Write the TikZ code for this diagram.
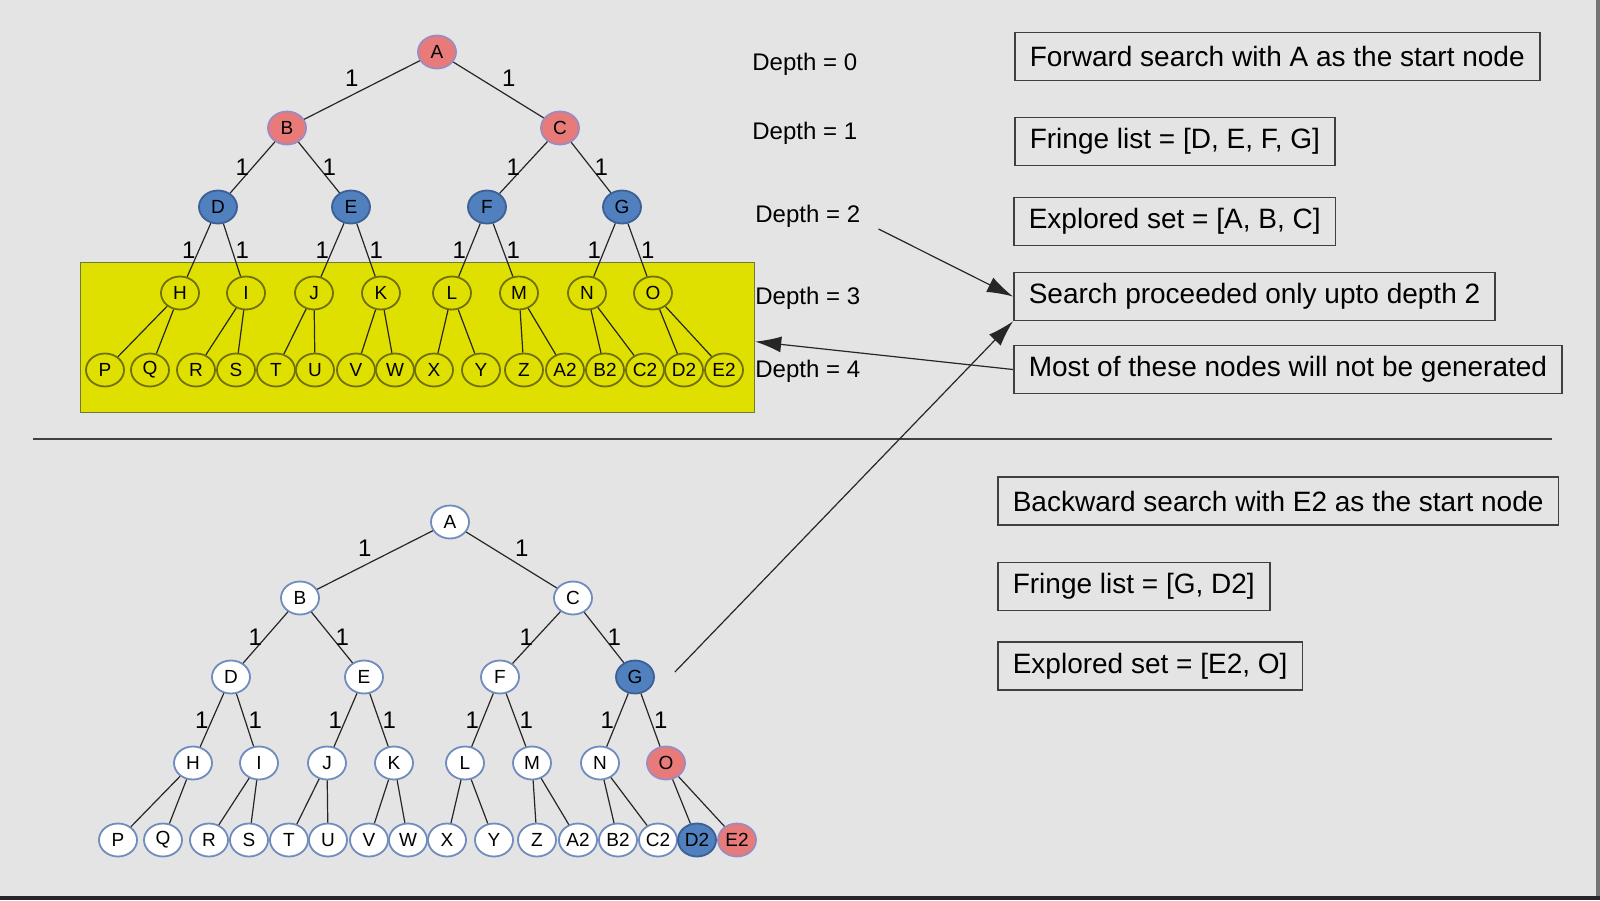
\documentclass[tikz,border=0pt]{standalone}
\usepackage{fontspec}
\setmainfont{Liberation Sans}
\usetikzlibrary{arrows.meta,shapes.geometric}

\definecolor{slidebg}{HTML}{E4E4E4}
\definecolor{visitred}{HTML}{E87A7A}
\definecolor{visitredline}{HTML}{9A8CC0}
\definecolor{fringeblue}{HTML}{5080BE}
\definecolor{fringeblueline}{HTML}{3C5F96}
\definecolor{cutyellow}{HTML}{E0E000}
\definecolor{cutyellowline}{HTML}{6E7A3C}
\definecolor{yellownodeline}{HTML}{70700A}
\definecolor{plainline}{HTML}{6E8CBE}

\begin{document}
\begin{tikzpicture}[x=50pt, y=50pt]
\tikzset{>={Latex[length=13pt,width=8pt]}}
\tikzset{
  treenode/.style={ellipse, draw, line width=0.9pt, minimum width=19pt, minimum height=16.5pt, inner sep=0pt, font=\fontsize{9.5}{11}\selectfont},
  rednode/.style={treenode, fill=visitred, draw=visitredline},
  bluenode/.style={treenode, fill=fringeblue, draw=fringeblueline},
  yellownode/.style={treenode, fill=cutyellow, draw=yellownodeline},
  plainnode/.style={treenode, fill=white, draw=plainline},
  branch/.style={draw=black!85, line width=0.6pt},
  weight/.style={font=\fontsize{12}{14}\selectfont, inner sep=1.5pt},
  depthlabel/.style={font=\fontsize{12}{14}\selectfont, inner sep=0pt, anchor=west},
  infobox/.style={draw=black!75, line width=0.8pt, font=\fontsize{14}{17}\selectfont, inner xsep=7.5pt, minimum height=24pt, anchor=west},
}

% slide background
\fill[slidebg] (0,0) rectangle (16,-9);
\fill[black!55] (15.96,0) rectangle (16,-9);
\fill[black!85] (0,-8.96) rectangle (16,-9);
\useasboundingbox (0,0) rectangle (16,-9);

% nodes cut off by the depth limit
\node[draw=cutyellowline, fill=cutyellow, line width=0.6pt, minimum width=337pt, minimum height=75pt, inner sep=0pt, anchor=north west] (frontier) at (0.80,-2.62) {};

% both trees: forward (f-) on top, backward (b-) below
\foreach \n/\x/\y/\fs/\bs in {A/4.37/0.52/rednode/plainnode, B/2.87/1.28/rednode/plainnode, C/5.60/1.28/rednode/plainnode,
  D/2.18/2.07/bluenode/plainnode, E/3.51/2.07/bluenode/plainnode, F/4.87/2.07/bluenode/plainnode, G/6.22/2.07/bluenode/bluenode,
  H/1.80/2.93/yellownode/plainnode, I/2.46/2.93/yellownode/plainnode, J/3.14/2.93/yellownode/plainnode, K/3.81/2.93/yellownode/plainnode,
  L/4.52/2.93/yellownode/plainnode, M/5.19/2.93/yellownode/plainnode, N/5.87/2.93/yellownode/plainnode, O/6.53/2.93/yellownode/rednode,
  P/1.05/3.70/yellownode/plainnode, Q/1.50/3.70/yellownode/plainnode, R/1.96/3.70/yellownode/plainnode, S/2.36/3.70/yellownode/plainnode,
  T/2.76/3.70/yellownode/plainnode, U/3.15/3.70/yellownode/plainnode, V/3.56/3.70/yellownode/plainnode, W/3.95/3.70/yellownode/plainnode,
  X/4.34/3.70/yellownode/plainnode, Y/4.81/3.70/yellownode/plainnode, Z/5.24/3.70/yellownode/plainnode, A2/5.65/3.70/yellownode/plainnode,
  B2/6.05/3.70/yellownode/plainnode, C2/6.45/3.70/yellownode/plainnode, D2/6.84/3.70/yellownode/bluenode, E2/7.24/3.70/yellownode/rednode}
{
  \node[\fs] (f-\n) at (\x,-\y) {\n};
  \node[\bs] (b-\n) at (\x+0.13,-\y-4.70) {\n};
}

\foreach \p/\c/\a in {A/B/south east, A/C/south west, B/D/east, B/E/west, C/F/east, C/G/west,
  D/H/east, D/I/west, E/J/east, E/K/west, F/L/east, F/M/west, G/N/east, G/O/west}
{
  \draw[branch] (f-\p) -- node[weight, anchor=\a] {1} (f-\c);
  \draw[branch] (b-\p) -- node[weight, anchor=\a] {1} (b-\c);
}
\foreach \p/\c in {H/P, H/Q, I/R, I/S, J/T, J/U, K/V, K/W, L/X, L/Y, M/Z, M/A2, N/B2, N/C2, O/D2, O/E2}
{
  \draw[branch] (f-\p) -- (f-\c);
  \draw[branch] (b-\p) -- (b-\c);
}

% depth marks
\node[depthlabel] (depth0) at (7.52,-0.64) {Depth = 0};
\node[depthlabel] (depth1) at (7.52,-1.33) {Depth = 1};
\node[depthlabel] (depth2) at (7.55,-2.16) {Depth = 2};
\node[depthlabel] (depth3) at (7.55,-2.98) {Depth = 3};
\node[depthlabel] (depth4) at (7.55,-3.71) {Depth = 4};

% notes
\node[infobox] (fwdtitle) at (10.14,-0.565) {Forward search with A as the start node};
\node[infobox] (fwdfringe) at (10.14,-1.415) {Fringe list = [D, E, F, G]};
\node[infobox] (fwdexplored) at (10.13,-2.215) {Explored set = [A, B, C]};
\node[infobox] (cutoff) at (10.13,-2.965) {Search proceeded only upto depth 2};
\node[infobox] (notgen) at (10.13,-3.695) {Most of these nodes will not be generated};
\node[infobox] (bwdtitle) at (9.97,-5.01) {Backward search with E2 as the start node};
\node[infobox] (bwdfringe) at (9.97,-5.865) {Fringe list = [G, D2]};
\node[infobox] (bwdexplored) at (9.97,-6.66) {Explored set = [E2, O]};

\draw[black!75, line width=1pt] (0.33,-4.39) -- (15.52,-4.39);

\draw[->, black!85, line width=0.6pt] ([shift={(9pt,-6.5pt)}]depth2.east) -- (cutoff.west);
\draw[->, black!85, line width=0.6pt] (notgen.west) -- ([yshift=-2pt]frontier.east);
\draw[->, black!85, line width=0.6pt] ([shift={(10pt,2.5pt)}]b-G.east) -- (cutoff.south west);

\end{tikzpicture}
\end{document}
